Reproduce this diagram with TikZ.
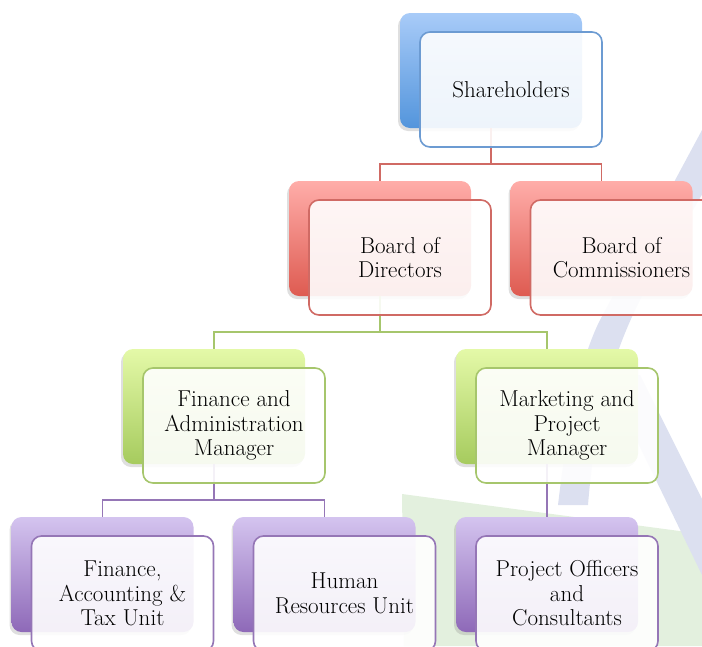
\documentclass[tikz,border=0pt]{standalone}
\usetikzlibrary{shadows}

\definecolor{azulArr}{HTML}{A8CBF8}
\definecolor{azulAb}{HTML}{5395DC}
\definecolor{azulBorde}{HTML}{6C9BD2}
\definecolor{rojoArr}{HTML}{FFADA9}
\definecolor{rojoAb}{HTML}{DE5B51}
\definecolor{rojoBorde}{HTML}{D06A64}
\definecolor{verdeArr}{HTML}{E4F9A8}
\definecolor{verdeAb}{HTML}{A6CB5E}
\definecolor{verdeBorde}{HTML}{A6C66C}
\definecolor{lilaArr}{HTML}{D4C4EF}
\definecolor{lilaAb}{HTML}{8E69B8}
\definecolor{lilaBorde}{HTML}{9576B6}
\definecolor{marcaLila}{HTML}{DCE0F0}
\definecolor{marcaVerde}{HTML}{E3F0DE}

\tikzset{
  caja/.style={rounded corners=10pt, minimum width=182pt, minimum height=115pt, inner sep=0pt},
  fondo/.style 2 args={caja, top color=#1, bottom color=#2,
    drop shadow={shadow xshift=-2pt, shadow yshift=-3pt, opacity=0.25}},
  frente/.style={caja, draw=#1, line width=1.6pt, fill=white, fill opacity=0.9, text opacity=1,
    align=center, font=\fontsize{23}{24.5}\selectfont},
  conector/.style={draw=#1, line width=1.6pt}
}

\begin{document}
\begin{tikzpicture}[x=1pt,y=-1pt]
	\useasboundingbox (0,0) rectangle (702,646);
	\clip (0,0) rectangle (702,646);

	% Marca de agua
	\fill[marcaVerde] (402,494) -- (702,534) -- (702,646) -- (404,646) -- cycle;
	\fill[marcaLila] (558,505) .. controls (568,420) and (580,360) .. (600,320) -- (702,130) -- (740,130) -- (640,300) .. controls (610,360) and (595,420) .. (588,505) -- cycle;
	\fill[marcaLila] (605,375) -- (640,375) -- (720,535) -- (702,575) -- cycle;

	% Cajas de fondo
	\node[fondo={azulArr}{azulAb}] (shareB) at (491,70.5) {};
	\node[fondo={rojoArr}{rojoAb}] (bodB) at (380,238.5) {};
	\node[fondo={rojoArr}{rojoAb}] (bocB) at (601.5,238.5) {};
	\node[fondo={verdeArr}{verdeAb}] (famB) at (214,406.5) {};
	\node[fondo={verdeArr}{verdeAb}] (mpmB) at (547,406.5) {};
	\node[fondo={lilaArr}{lilaAb}] (fatB) at (102.5,574.5) {};
	\node[fondo={lilaArr}{lilaAb}] (hrB) at (324.5,574.5) {};
	\node[fondo={lilaArr}{lilaAb}] (poB) at (547,574.5) {};

	% Conectores
	\coordinate (n1) at ([yshift=-36pt]shareB.south);
	\coordinate (n2) at ([yshift=-36pt]bodB.south);
	\coordinate (n3) at ([yshift=-36pt]famB.south);
	\draw[conector=rojoBorde] (shareB.south) -- (n1) -| (bodB.north);
	\draw[conector=rojoBorde] (n1) -| (bocB.north);
	\draw[conector=verdeBorde] (bodB.south) -- (n2) -| (famB.north);
	\draw[conector=verdeBorde] (n2) -| (mpmB.north);
	\draw[conector=lilaBorde] (famB.south) -- (n3) -| (fatB.north);
	\draw[conector=lilaBorde] (n3) -| (hrB.north);
	\draw[conector=lilaBorde] (mpmB.south) -- (poB.north);

	% Cajas de frente
	\node[frente=azulBorde] (share) at ([shift={(20,19)}]shareB) {Shareholders};
	\node[frente=rojoBorde] (bod) at ([shift={(20,19)}]bodB) {Board of\\Directors};
	\node[frente=rojoBorde] (boc) at ([shift={(20,19)}]bocB) {Board of\\Commissioners};
	\node[frente=verdeBorde] (fam) at ([shift={(20,19)}]famB) {Finance and\\Administration\\Manager};
	\node[frente=verdeBorde] (mpm) at ([shift={(20,19)}]mpmB) {Marketing and\\Project\\Manager};
	\node[frente=lilaBorde] (fat) at ([shift={(20,19)}]fatB) {Finance,\\Accounting \&\\Tax Unit};
	\node[frente=lilaBorde] (hr) at ([shift={(20,19)}]hrB) {Human\\Resources Unit};
	\node[frente=lilaBorde] (po) at ([shift={(20,19)}]poB) {Project Officers\\and\\Consultants};
\end{tikzpicture}
\end{document}
